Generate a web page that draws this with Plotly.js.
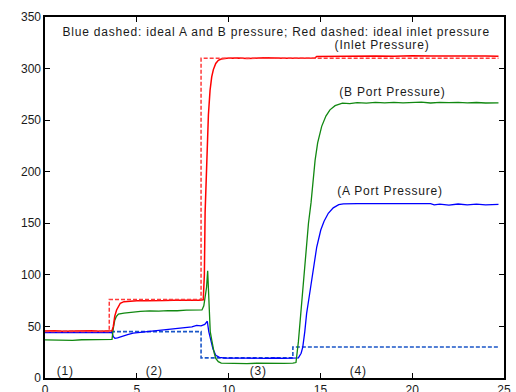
<!DOCTYPE html>
<html>
<head>
<meta charset="utf-8">
<script src="https://cdn.plot.ly/plotly-3.0.1.min.js"></script>
<style>html,body{margin:0;padding:0;background:#fff;}#chart{width:516px;height:392px;}</style>
</head>
<body>
<div id="chart"></div>
<script>
// Ideal (dashed) pressures
var idealInletT = [0, 3.5, 3.5, 8.5, 8.5, 24.7];
var idealInletP = [45, 45, 76, 76, 310, 310];
var idealABT = [0, 8.5, 8.5, 13.5, 13.5, 24.7];
var idealABP = [45, 45, 19.5, 19.5, 30, 30];

// Measured inlet pressure (red)
var inletT = [0,0.5,1,1.5,2,2.5,3,3.5,3.65,3.72,3.8,3.9,4.0,4.1,4.3,4.6,5,5.5,6,6.5,7,7.5,8,8.4,8.62,8.68,8.72,8.78,8.84,8.9,8.99,9.08,9.17,9.3,9.44,9.6,9.9,10.5,11,12,13,14,14.7,14.8,15.5,16,17,18,19,20,21,22,23,24,24.7];
var inletP = [45.5,45.8,45.3,45.7,45.5,45.9,45.4,45.6,45.8,50,60,66,70,72.5,74,74.6,75,74.8,75.3,75.1,75.5,75.2,75.6,75.3,75.8,100,160,200,231,255,279,292,299,305,308,309.3,310,310.3,309.8,310.4,310,310.5,310.2,311.8,312,312.2,311.8,312.3,312,312.5,312.1,312.4,312,312.3,312];

// B port pressure (green)
var bPortT = [0,0.5,1,1.5,2,2.5,3,3.5,3.65,3.72,3.8,3.88,4,4.3,4.7,5.2,5.7,6.2,6.7,7.2,7.7,8.2,8.55,8.65,8.75,8.8,8.86,8.9,8.93,9.0,9.08,9.15,9.22,9.3,9.44,9.6,10,10.5,11,11.5,12,12.5,13,13.5,13.67,13.8,13.93,14.08,14.22,14.35,14.49,14.61,14.71,14.85,15.07,15.3,15.52,15.8,16.2,16.6,17,17.5,18,18.5,19,19.5,20,20.5,21,21.5,22,22.5,23,23.5,24,24.7];
var bPortP = [37,36.8,37.2,36.5,37.1,37.4,37,37.3,37.5,48,56,59.5,62,63,63.8,64.6,65,64.8,65.4,65.2,65.8,65.5,66,70,80,88,104,85,60,45,37,29,24,19,15.8,14.5,14.2,14.5,14,14.3,14.1,14.5,14.2,14.4,15,35,62,95,125,150,170,192,211,228,244,254,260,264,266.5,266,267,266.5,267.2,266.7,267.3,266.8,267,267.4,266.6,267.2,266.9,267.3,266.8,267.1,266.6,266.8];

// A port pressure (blue)
var aPortT = [0,0.5,1,1.5,2,2.5,3,3.5,3.65,3.72,3.81,3.95,4.2,4.5,4.8,5.5,6,6.6,7,7.7,8,8.26,8.5,8.7,8.84,8.92,9.02,9.15,9.3,9.5,9.8,10.3,11,12,12.5,13,13.5,13.8,13.95,14.04,14.15,14.25,14.4,14.53,14.67,14.8,15.02,15.2,15.43,15.7,16.0,16.25,17,18,19,20,21,21.2,21.5,22,22.5,23,23.5,24,24.7];
var aPortP = [44,43.8,44.2,43.9,44.1,43.7,44,44.2,44,40,38.5,38.8,40.5,42,43.6,45,45.8,47.2,47.6,49,49.5,51,50.5,52,55,45,37,28,22,20,19.2,19.5,19.3,19,19.4,19,19.2,19.5,24,30,45,62.7,80,95,112,127,143.5,152,159.7,165,168,168.8,169,168.9,169.2,168.8,169,167.8,168.5,167.6,168.7,167.8,168.6,167.9,168.3];

var labels = ["Blue dashed: ideal A and B pressure; Red dashed: ideal inlet pressure", "(Inlet Pressure)", "(B Port Pressure)", "(A Port Pressure)", "(1)", "(2)", "(3)", "(4)"];
var labelX = [12.6, 18.35, 18.94, 18.8, 1.09, 5.94, 11.65, 17.1];
var labelY = [335.5, 323, 277.5, 181.5, 6.5, 6.5, 6.5, 6.5];

var FONT = "'Liberation Sans', Arial, Helvetica, sans-serif";

var traces = [
  {x: idealABT, y: idealABP, mode: 'lines', line: {color: '#1a56c8', width: 1.6, dash: '4px,2px'}, hoverinfo: 'skip'},
  {x: aPortT, y: aPortP, mode: 'lines', line: {color: '#0000ff', width: 1.3}},
  {x: bPortT, y: bPortP, mode: 'lines', line: {color: '#118811', width: 1.3}},
  {x: inletT, y: inletP, mode: 'lines', line: {color: '#ff0000', width: 1.5}},
  {x: idealInletT, y: idealInletP, mode: 'lines', line: {color: '#ff3b3b', width: 1.5, dash: '4px,2px'}}
];

var annotations = labels.map(function (t, i) {
  return {text: t, x: labelX[i], y: labelY[i], xref: 'x', yref: 'y', showarrow: false,
          font: {family: FONT, size: 12, color: '#1a1a1a'}, xanchor: 'center', yanchor: 'middle'};
});

var axisCommon = {
  showgrid: false, zeroline: false, showline: true, linecolor: '#000', linewidth: 1.6,
  ticks: 'inside', ticklen: 5, tickwidth: 1.2, tickcolor: '#000', mirror: 'ticks',
  tickfont: {family: FONT, size: 12, color: '#1a1a1a'}
};

var layout = {
  width: 516, height: 392,
  margin: {l: 45, r: 12, t: 17, b: 14, pad: 0},
  paper_bgcolor: '#fff', plot_bgcolor: '#fff',
  showlegend: false,
  xaxis: Object.assign({}, axisCommon, {range: [0, 25], tick0: 0, dtick: 5}),
  yaxis: Object.assign({}, axisCommon, {range: [0, 350], tick0: 0, dtick: 50}),
  annotations: annotations
};

Plotly.newPlot('chart', traces, layout, {displayModeBar: false, staticPlot: true}).then(function () {
  document.querySelectorAll('.annotation-text').forEach(function (el) {
    el.style.letterSpacing = '0.8px';
  });
});
</script>
</body>
</html>
